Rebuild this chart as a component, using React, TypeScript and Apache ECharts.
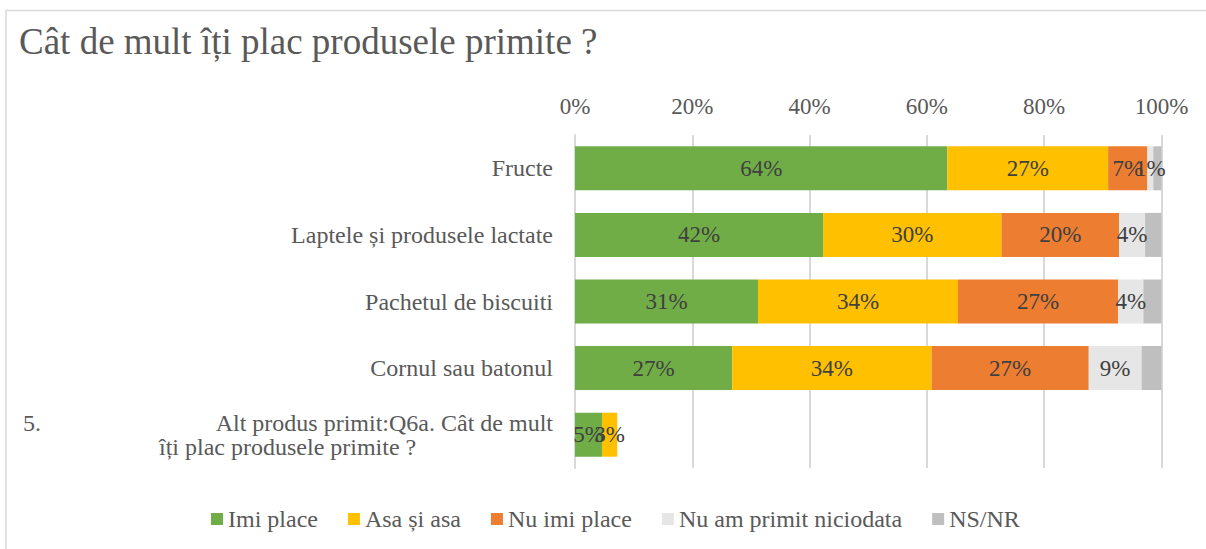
import React, { useEffect, useRef } from "react";
import * as echarts from "echarts";

const categories = [
  "Fructe",
  "Laptele și produsele lactate",
  "Pachetul de biscuiti",
  "Cornul sau batonul",
  "5.\tAlt produs primit:Q6a. Cât de mult îți plac produsele primite ?",
];
const seriesNames = ["Imi place", "Asa și asa", "Nu imi place", "Nu am primit niciodata", "NS/NR"];
const imiPlace = [63.5, 42.3, 31.2, 26.8, 4.6];
const asaSiAsa = [27.4, 30.4, 34.1, 34.0, 2.6];
const nuImiPlace = [6.7, 20.1, 27.3, 26.8, 0];
const nuAmPrimit = [1.0, 4.4, 4.3, 9.0, 0];
const nsNr = [1.4, 2.8, 3.1, 3.4, 0];
const xTicks = [0, 20, 40, 60, 80, 100];
const colors = ["#70AD47", "#FFC000", "#ED7D31", "#E6E6E6", "#BFBFBF"];
const titleText = "Cât de mult îți plac produsele primite ?";

const FONT = "Liberation Serif";

export default function App() {
  const ref = useRef<HTMLDivElement>(null);
  useEffect(() => {
    if (!ref.current) return;
    const chart = echarts.init(ref.current, undefined, { renderer: "svg" });
    const dataSets = [imiPlace, asaSiAsa, nuImiPlace, nuAmPrimit, nsNr];
    const series = dataSets.map((d, i) => ({
      name: seriesNames[i],
      type: "bar",
      stack: "total",
      barWidth: 44,
      data: d,
      itemStyle: { color: colors[i] },
      label: {
        show: i < 4,
        position: "inside",
        color: "#404040",
        fontFamily: FONT,
        fontSize: 23,
        formatter: (p: any) => (p.value ? Math.round(p.value) + "%" : ""),
      },
      emphasis: { disabled: true },
    }));
    const richBase = { fontFamily: FONT, fontSize: 24, color: "#595959", lineHeight: 24 };
    chart.setOption({
      animation: false,
      textStyle: { fontFamily: FONT },
      title: {
        text: titleText,
        left: 14,
        top: 18,
        textStyle: { fontFamily: FONT, fontSize: 37, fontWeight: "normal", color: "#595959" },
      },
      graphic: [
        {
          type: "rect",
          shape: { x: 6, y: 10.5, width: 1400, height: 700 },
          style: { fill: "none", stroke: "#d9d9d9", lineWidth: 1.5 },
          silent: true,
        },
      ],
      legend: {
        left: 211,
        top: 507,
        padding: 0,
        itemWidth: 12,
        itemHeight: 12,
        itemGap: 30,
        icon: "rect",
        textStyle: { fontFamily: FONT, fontSize: 24, color: "#595959" },
        data: seriesNames,
      },
      grid: { left: 575, right: 44.5, top: 135, bottom: 81 },
      xAxis: {
        type: "value",
        position: "top",
        min: xTicks[0],
        max: xTicks[xTicks.length - 1],
        interval: 20,
        axisLine: { show: false },
        axisTick: { show: false },
        splitLine: { lineStyle: { color: "#d9d9d9", width: 2 } },
        axisLabel: {
          formatter: "{value}%",
          margin: 17,
          fontFamily: FONT,
          fontSize: 23,
          color: "#595959",
        },
      },
      yAxis: {
        type: "category",
        inverse: true,
        data: categories,
        axisLine: { show: true, lineStyle: { color: "#d9d9d9", width: 2 } },
        axisTick: { show: false },
        axisLabel: {
          margin: 22,
          fontFamily: FONT,
          fontSize: 24,
          color: "#595959",
          formatter: (v: string) => {
            if (v.indexOf("\t") >= 0) {
              const parts = v.split("\t");
              const rest = parts[1];
              const cut = rest.indexOf(" îți");
              return (
                "{num|" + parts[0] + "}{a|" + rest.slice(0, cut) + "}\n{pad|}{b|" + rest.slice(cut + 1) + "}"
              );
            }
            return v;
          },
          rich: {
            num: { ...richBase, width: 136, align: "left" },
            a: { ...richBase, width: 394, align: "right" },
            pad: { ...richBase, width: 136, align: "left" },
            b: { ...richBase, align: "left" },
          },
        },
      },
      series,
    });
    return () => chart.dispose();
  }, []);
  return (
    <div
      ref={ref}
      style={{
        position: "fixed",
        left: 0,
        top: 0,
        width: 1206,
        height: 549,
        background: "#fff",
        fontFamily: "'Liberation Serif', serif",
      }}
    />
  );
}
